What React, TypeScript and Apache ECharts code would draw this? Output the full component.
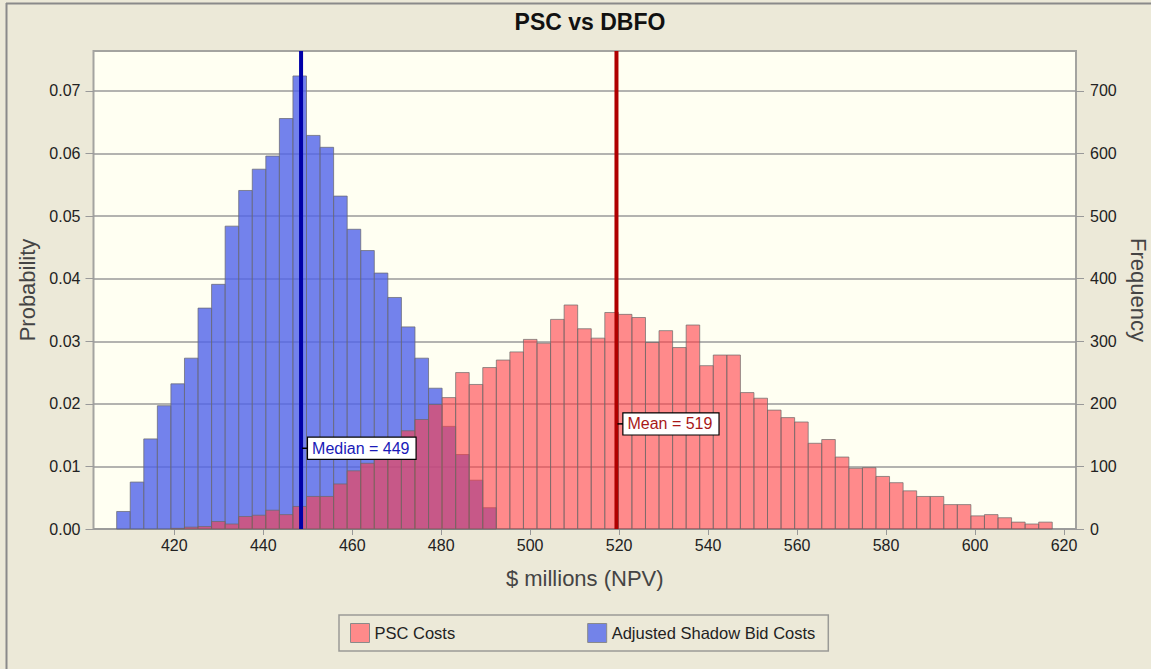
import React, { useEffect, useRef } from "react";
import * as echarts from "echarts";

// ---- data -------------------------------------------------------------
const BIN_START = 407.05; // $ millions, left edge of the first histogram bin
const BIN_WIDTH = 3.048; // $ millions per bin

const X_TICKS = [420, 440, 460, 480, 500, 520, 540, 560, 580, 600, 620];
const PROB_TICKS = [0, 0.01, 0.02, 0.03, 0.04, 0.05, 0.06, 0.07];
const FREQ_TICKS = [0, 100, 200, 300, 400, 500, 600, 700];

// Frequencies (out of 10,000 iterations) per bin
const PSC_FREQ = [
  0, 0, 0, 0, 1, 3, 4, 12, 8, 20, 22, 30, 23, 36, 52, 52, 72, 93, 105, 113,
  129, 157, 175, 199, 210, 250, 231, 258, 270, 283, 303, 297, 335, 358, 320,
  305, 346, 343, 338, 298, 317, 290, 326, 261, 278, 278, 218, 209, 190, 178,
  171, 137, 143, 115, 97, 98, 84, 74, 61, 52, 52, 39, 39, 21, 23, 18, 11, 8,
  11,
];
const SHADOW_FREQ = [
  28, 75, 144, 197, 232, 273, 353, 391, 484, 541, 575, 596, 656, 724, 629,
  610, 532, 479, 445, 409, 370, 323, 273, 225, 164, 119, 78, 34,
];

const MARKERS = [
  { label: "Median = 449", value: 448.5, color: "#0000A8", text: "#1A1AB8" },
  { label: "Mean = 519", value: 519.4, color: "#B00000", text: "#A81818" },
];
const MARKER_LABEL_FREQ = [129, 168];

const FREQ_MAX = 763.9;
const PROB_MAX = 0.07639;
const X_MIN = 401.84;
const X_MAX = 622.7;

const FONT = '"Liberation Sans", Arial, sans-serif';

function toBins(freq: number[]) {
  const out: number[][] = [];
  freq.forEach((f, i) => {
    if (f > 0) out.push([BIN_START + i * BIN_WIDTH, BIN_START + (i + 1) * BIN_WIDTH, f]);
  });
  return out;
}

function barRenderer(fill: string, stroke: string) {
  return (params: any, api: any) => {
    const p0 = api.coord([api.value(0), api.value(2)]);
    const p1 = api.coord([api.value(1), 0]);
    return {
      type: "rect",
      shape: { x: p0[0], y: p0[1], width: p1[0] - p0[0], height: p1[1] - p0[1] },
      style: { fill, stroke, lineWidth: 1 },
    };
  };
}

export default function App() {
  const ref = useRef<HTMLDivElement>(null);

  useEffect(() => {
    document.body.style.margin = "0";
    if (!ref.current) return;
    const chart = echarts.init(ref.current, undefined, { renderer: "svg" });

    const option: any = {
      animation: false,
      backgroundColor: "#ECE9D8",
      title: {
        text: "PSC vs DBFO",
        left: 585,
        top: 5,
        textAlign: "center",
        textStyle: { fontFamily: FONT, fontSize: 23, fontWeight: "bold", color: "#111" },
      },
      grid: {
        left: 93.5,
        right: 75,
        top: 51,
        bottom: 140,
        outerBoundsMode: "none",
        containLabel: false,
        show: true,
        backgroundColor: "#FFFFF2",
        borderColor: "#A4A4A0",
        borderWidth: 2,
      },
      legend: {
        left: 339,
        top: 615,
        selectedMode: false,
        icon: "rect",
        itemWidth: 19,
        itemHeight: 19,
        itemGap: 132,
        padding: [8, 13, 8, 11],
        borderColor: "#9A9A96",
        borderWidth: 1.5,
        textStyle: { fontFamily: FONT, fontSize: 16.5, color: "#222" },
        data: [
          { name: "PSC Costs", itemStyle: { color: "#FF8A8A", borderColor: "#8A8A8A", borderWidth: 1 } },
          {
            name: "Adjusted Shadow Bid Costs",
            itemStyle: { color: "#7383E9", borderColor: "#8A8A8A", borderWidth: 1 },
          },
        ],
      },
      xAxis: {
        type: "value",
        min: X_MIN,
        max: X_MAX,
        name: "$ millions (NPV)",
        nameLocation: "middle",
        nameGap: 38,
        nameTextStyle: { fontFamily: FONT, fontSize: 22, color: "#444" },
        axisLine: { show: false },
        splitLine: { show: false },
        axisTick: { show: true, length: 6, lineStyle: { color: "#999" }, customValues: X_TICKS },
        axisLabel: {
          customValues: X_TICKS,
          margin: 8,
          fontFamily: FONT,
          fontSize: 16,
          color: "#222",
        },
      },
      yAxis: [
        {
          type: "value",
          min: 0,
          max: PROB_MAX,
          interval: 0.01,
          name: "Probability",
          nameLocation: "middle",
          nameGap: 55,
          nameRotate: 90,
          nameTextStyle: { fontFamily: FONT, fontSize: 22, color: "#444" },
          axisLine: { show: false },
          axisTick: { show: true, length: 8, lineStyle: { color: "#999" }, customValues: PROB_TICKS },
          axisLabel: {
            customValues: PROB_TICKS,
            margin: 13,
            fontFamily: FONT,
            fontSize: 16,
            color: "#222",
            formatter: (v: number) => v.toFixed(2),
          },
          splitLine: { show: true, lineStyle: { color: "#9A9A9A", width: 1.5 } },
        },
        {
          type: "value",
          min: 0,
          max: FREQ_MAX,
          interval: 100,
          position: "right",
          name: "Frequency",
          nameLocation: "middle",
          nameGap: 46,
          nameRotate: -90,
          nameTextStyle: { fontFamily: FONT, fontSize: 22, color: "#444" },
          axisLine: { show: false },
          axisTick: { show: true, length: 8, lineStyle: { color: "#999" }, customValues: FREQ_TICKS },
          axisLabel: {
            customValues: FREQ_TICKS,
            margin: 14,
            fontFamily: FONT,
            fontSize: 16,
            color: "#222",
          },
          splitLine: { show: false },
        },
      ],
      series: [
        {
          name: "Adjusted Shadow Bid Costs",
          type: "custom",
          yAxisIndex: 1,
          itemStyle: { color: "#7383E9" },
          encode: { x: [0, 1], y: 2 },
          data: toBins(SHADOW_FREQ),
          renderItem: barRenderer("rgba(80,99,234,0.8)", "rgba(105,105,115,0.75)"),
          z: 2,
        },
        {
          name: "PSC Costs",
          type: "custom",
          yAxisIndex: 1,
          itemStyle: { color: "#FF8A8A" },
          encode: { x: [0, 1], y: 2 },
          data: toBins(PSC_FREQ),
          renderItem: barRenderer("rgba(255,60,70,0.6)", "rgba(105,105,105,0.7)"),
          z: 3,
        },
        {
          name: "markers",
          type: "custom",
          yAxisIndex: 1,
          encode: { x: 0, y: 1 },
          data: MARKERS.map((m, i) => [m.value, MARKER_LABEL_FREQ[i]]),
          z: 5,
          renderItem: (params: any, api: any) => {
            const m = MARKERS[params.dataIndex];
            const x = api.value(0);
            const top = api.coord([x, FREQ_MAX]);
            const bot = api.coord([x, 0]);
            const ly = api.coord([x, api.value(1)])[1];
            return {
              type: "group",
              children: [
                {
                  type: "line",
                  shape: { x1: top[0], y1: top[1], x2: bot[0], y2: bot[1] },
                  style: { stroke: m.color, lineWidth: 4 },
                },
                {
                  type: "line",
                  shape: { x1: top[0] + 1, y1: ly, x2: top[0] + 7, y2: ly },
                  style: { stroke: "#000", lineWidth: 1.5 },
                },
                {
                  type: "text",
                  x: top[0] + 7,
                  y: ly,
                  style: {
                    text: m.label,
                    font: `16px ${FONT}`,
                    fill: m.text,
                    align: "left",
                    verticalAlign: "middle",
                    backgroundColor: "#FFFFFF",
                    borderColor: "#000000",
                    borderWidth: 1.2,
                    padding: [3, 6, 2, 4],
                  },
                },
              ],
            };
          },
        },
      ],
      graphic: [
        { type: "line", shape: { x1: 6, y1: 3.5, x2: 1151, y2: 3.5 }, style: { stroke: "#8A8A8A", lineWidth: 2 } },
        { type: "line", shape: { x1: 6.5, y1: 3, x2: 6.5, y2: 669 }, style: { stroke: "#8A8A8A", lineWidth: 2 } },
      ],
    };

    chart.setOption(option);
    return () => chart.dispose();
  }, []);

  return <div ref={ref} style={{ width: 1151, height: 669 }} />;
}
